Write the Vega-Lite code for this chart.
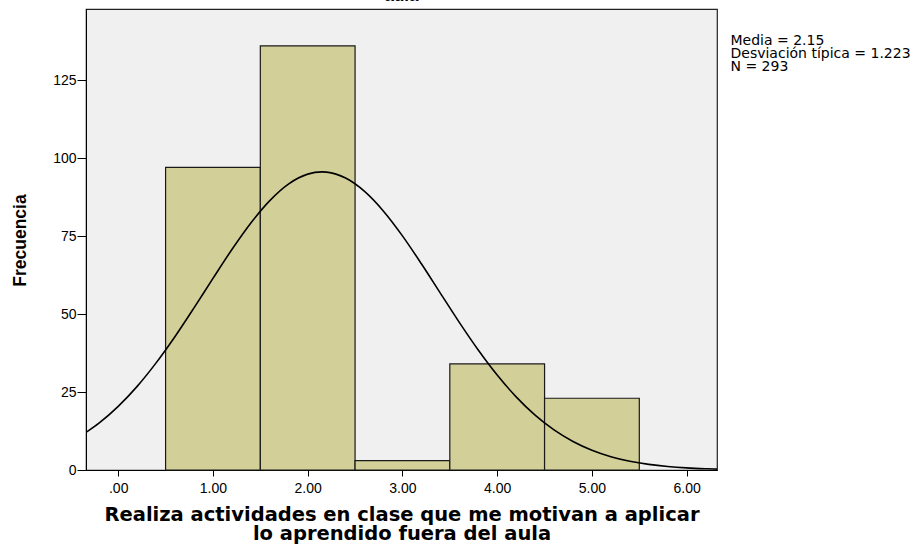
{
  "$schema": "https://vega.github.io/schema/vega-lite/v6.json",
  "autosize": "none",
  "width": 631,
  "height": 461,
  "padding": {"left": 86, "top": 9, "right": 203, "bottom": 74},
  "background": "white",
  "config": {
    "font": "Liberation Sans",
    "view": {"fill": "#f0f0f0", "stroke": "#222222", "strokeWidth": 1.2}
  },
  "title": {
    "text": "aula",
    "fontSize": 17,
    "fontWeight": "bold",
    "color": "black",
    "anchor": "middle",
    "offset": 4,
    "font": "Liberation Sans"
  },
  "datasets": {
    "bars": [
      {"lo": 0.5, "hi": 1.5, "count": 97},
      {"lo": 1.5, "hi": 2.5, "count": 136},
      {"lo": 2.5, "hi": 3.5, "count": 3},
      {"lo": 3.5, "hi": 4.5, "count": 34},
      {"lo": 4.5, "hi": 5.5, "count": 23}
    ],
    "curve": [
      {"x": -0.34, "y": 12.03}, {"x": -0.2, "y": 15.09}, {"x": 0.0, "y": 20.39},
      {"x": 0.2, "y": 26.81}, {"x": 0.4, "y": 34.34}, {"x": 0.6, "y": 42.81},
      {"x": 0.8, "y": 51.98}, {"x": 1.0, "y": 61.43}, {"x": 1.2, "y": 70.69},
      {"x": 1.4, "y": 79.2}, {"x": 1.6, "y": 86.38}, {"x": 1.8, "y": 91.75},
      {"x": 2.0, "y": 94.86}, {"x": 2.15, "y": 95.58}, {"x": 2.2, "y": 95.5},
      {"x": 2.4, "y": 93.6}, {"x": 2.6, "y": 89.32}, {"x": 2.8, "y": 82.99},
      {"x": 3.0, "y": 75.07}, {"x": 3.2, "y": 66.12}, {"x": 3.4, "y": 56.7},
      {"x": 3.6, "y": 47.33}, {"x": 3.8, "y": 38.47}, {"x": 4.0, "y": 30.44},
      {"x": 4.2, "y": 23.46}, {"x": 4.4, "y": 17.6}, {"x": 4.6, "y": 12.85},
      {"x": 4.8, "y": 9.14}, {"x": 5.0, "y": 6.33}, {"x": 5.2, "y": 4.26},
      {"x": 5.4, "y": 2.8}, {"x": 5.6, "y": 1.79}, {"x": 5.8, "y": 1.11},
      {"x": 6.0, "y": 0.67}, {"x": 6.2, "y": 0.4}, {"x": 6.32, "y": 0.29}
    ]
  },
  "layer": [
    {
      "data": {"name": "bars"},
      "mark": {"type": "rect", "fill": "#d3cf98", "stroke": "#1a1a1a", "strokeWidth": 1.2},
      "encoding": {
        "x": {
          "field": "lo", "type": "quantitative",
          "scale": {"domain": [-0.34, 6.32], "nice": false, "zero": false},
          "axis": {
            "values": [0, 1, 2, 3, 4, 5, 6],
            "labelExpr": "datum.value == 0 ? '.00' : format(datum.value, '.2f')",
            "grid": false,
            "domainColor": "black",
            "tickColor": "black",
            "tickSize": 6,
            "labelPadding": 5,
            "labelFontSize": 14,
            "labelColor": "black",
            "title": ["Realiza actividades en clase que  me motivan a aplicar", "lo aprendido fuera del aula"],
            "titleFont": "DejaVu Sans",
            "titleFontSize": 19.5,
            "titleFontWeight": "bold",
            "titleColor": "black",
            "titlePadding": 10,
            "titleLineHeight": 19
          }
        },
        "x2": {"field": "hi"},
        "y": {
          "field": "count", "type": "quantitative",
          "scale": {"domain": [0, 147.8], "nice": false},
          "axis": {
            "values": [0, 25, 50, 75, 100, 125],
            "grid": false,
            "domainColor": "black",
            "tickColor": "black",
            "tickSize": 9,
            "labelPadding": 1,
            "labelFontSize": 14,
            "labelColor": "black",
            "title": "Frecuencia",
            "titleFontSize": 17.5,
            "titleFontWeight": "bold",
            "titleColor": "black",
            "titleX": -66,
            "titleY": 231,
            "titleBaseline": "middle"
          }
        },
        "y2": {"datum": 0}
      }
    },
    {
      "data": {"name": "curve"},
      "mark": {"type": "line", "color": "black", "strokeWidth": 1.6, "clip": true, "interpolate": "monotone"},
      "encoding": {
        "x": {"field": "x", "type": "quantitative"},
        "y": {
          "field": "y", "type": "quantitative",
          "scale": {"domain": [0, 147.8], "nice": false},
          "axis": {
            "orient": "right",
            "labels": false,
            "ticks": false,
            "domain": false,
            "grid": false,
            "title": ["Media = 2.15", "Desviación típica = 1.223", "N = 293"],
            "titleAngle": 0,
            "titleAlign": "left",
            "titleBaseline": "top",
            "titleX": 13,
            "titleY": 24,
            "titleFont": "DejaVu Sans",
            "titleFontSize": 14,
            "titleFontWeight": "normal",
            "titleColor": "black",
            "titleLineHeight": 13
          }
        }
      }
    }
  ],
  "resolve": {"scale": {"y": "independent"}}
}
